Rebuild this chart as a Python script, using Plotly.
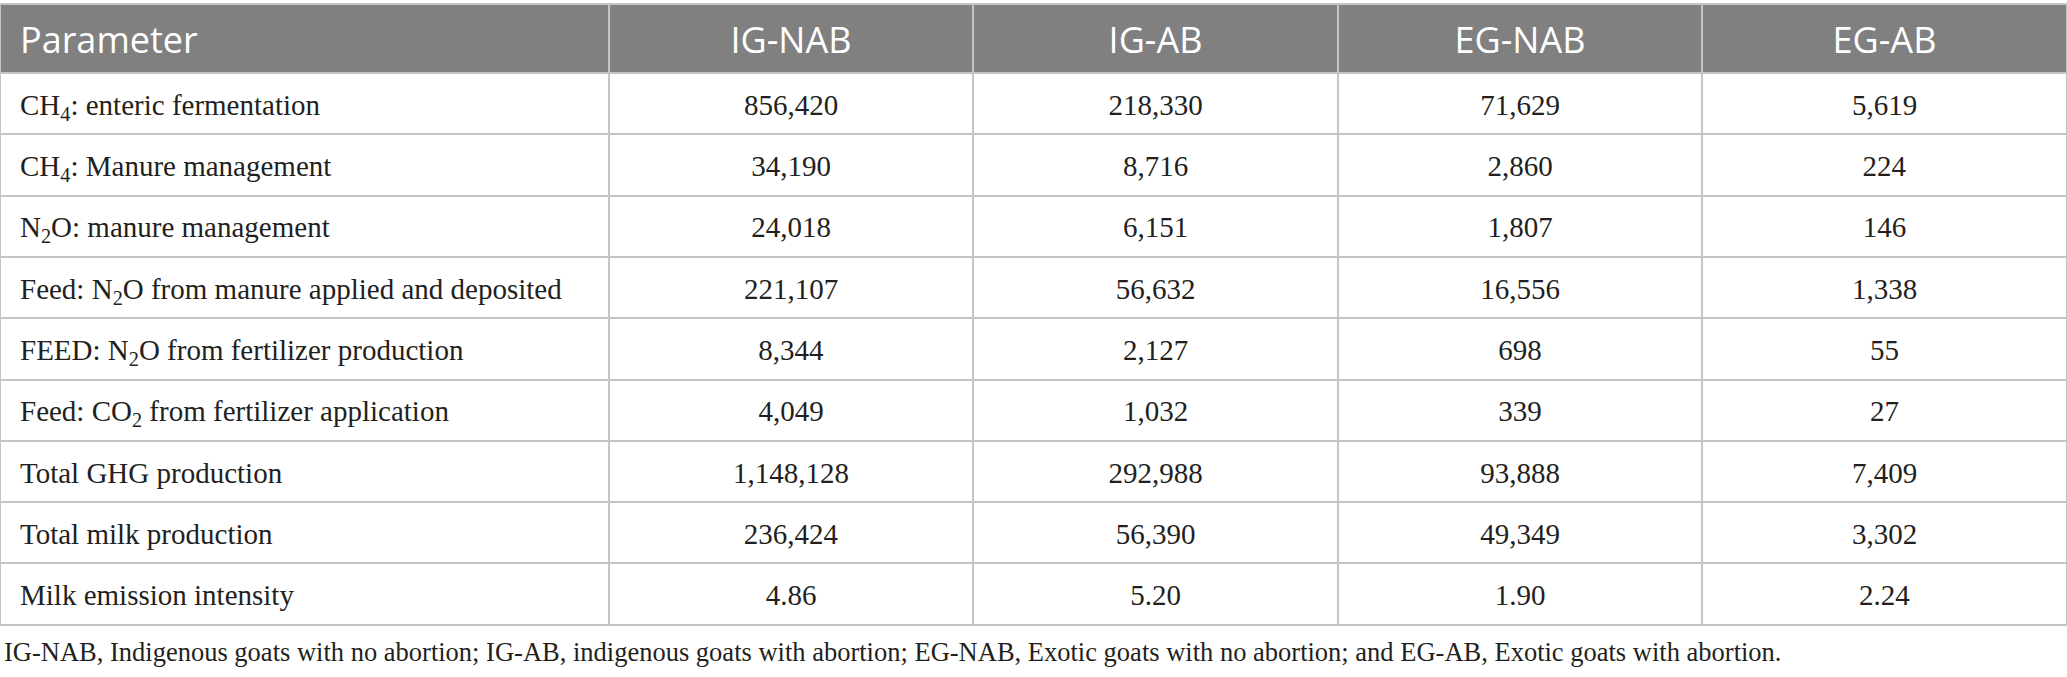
import plotly.graph_objects as go

# Table values
parameters = [
    "CH<sub>4</sub>: enteric fermentation",
    "CH<sub>4</sub>: Manure management",
    "N<sub>2</sub>O: manure management",
    "Feed: N<sub>2</sub>O from manure applied and deposited",
    "FEED: N<sub>2</sub>O from fertilizer production",
    "Feed: CO<sub>2</sub> from fertilizer application",
    "Total GHG production",
    "Total milk production",
    "Milk emission intensity",
]
groups = ["IG-NAB", "IG-AB", "EG-NAB", "EG-AB"]

ig_nab = [856420, 34190, 24018, 221107, 8344, 4049, 1148128, 236424, 4.86]
ig_ab = [218330, 8716, 6151, 56632, 2127, 1032, 292988, 56390, 5.20]
eg_nab = [71629, 2860, 1807, 16556, 698, 339, 93888, 49349, 1.90]
eg_ab = [5619, 224, 146, 1338, 55, 27, 7409, 3302, 2.24]

footnote = (
    "IG-NAB, Indigenous goats with no abortion; IG-AB, indigenous goats with abortion; "
    "EG-NAB, Exotic goats with no abortion; and EG-AB, Exotic goats with abortion."
)

W, H = 2067, 677
TOP = 4            # table top edge, px
HEAD_H = 69        # header row height
ROW_H = 61.3       # body row height
LINE = "#c4c4c4"
CLEAR = "rgba(0,0,0,0)"
COL_W = [609, 364, 365, 364, 365]
ALIGN = ["left"] + ["center"] * 4

# plotly puts cell text at the top of the cell, so the text is drawn by a second
# transparent table pushed down (and a little right) to sit like the reference
TEXT_SHIFT = 14.3
TEXT_HEAD_H = 62.4
TEXT_INDENT = 12


def fmt(v):
    if isinstance(v, float):
        s = f"{v:.2f}"
    else:
        s = f"{v:,}"
    return f"<span>{s}</span>"


# every cell goes through the same markup path so all rows line up
labels = [f"<span>{p}</span>" for p in parameters]
columns = [labels] + [[fmt(v) for v in col] for col in (ig_nab, ig_ab, eg_nab, eg_ab)]
n_rows = len(parameters)

fig = go.Figure()

# grid, fills and borders
fig.add_trace(
    go.Table(
        columnwidth=COL_W,
        domain={"x": [0, 1], "y": [0, 1 - TOP / H]},
        header={
            "values": [""] * 5,
            "fill": {"color": "#808080"},
            "line": {"color": LINE, "width": 2},
            "height": HEAD_H,
        },
        cells={
            "values": [[""] * n_rows] * 5,
            "fill": {"color": "white"},
            "line": {"color": LINE, "width": 2},
            "height": ROW_H,
        },
    )
)

# text layer
fig.add_trace(
    go.Table(
        columnwidth=[COL_W[0] - TEXT_INDENT] + COL_W[1:],
        domain={"x": [TEXT_INDENT / W, 1], "y": [0, 1 - (TOP + TEXT_SHIFT) / H]},
        header={
            "values": ["Parameter"] + groups,
            "fill": {"color": CLEAR},
            "font": {"family": "Open Sans", "size": 36, "color": "white"},
            "align": ALIGN,
            "line": {"color": CLEAR, "width": 0},
            "height": TEXT_HEAD_H,
        },
        cells={
            "values": columns,
            "fill": {"color": CLEAR},
            "font": {"family": "Liberation Serif", "size": 29, "color": "#231f20"},
            "align": ALIGN,
            "line": {"color": CLEAR, "width": 0},
            "height": ROW_H,
        },
    )
)

fig.add_annotation(
    text=footnote,
    x=0.001,
    y=1 - 652 / H,
    xref="paper",
    yref="paper",
    xanchor="left",
    yanchor="middle",
    showarrow=False,
    font={"family": "Liberation Serif", "size": 26.5, "color": "#231f20"},
)

fig.update_layout(
    width=W,
    height=H,
    margin={"l": 0, "r": 0, "t": 0, "b": 0},
    paper_bgcolor="white",
)

fig.write_html(
    "out.html",
    config={"displayModeBar": False},
    post_script="document.body.style.margin = '0';",
)
